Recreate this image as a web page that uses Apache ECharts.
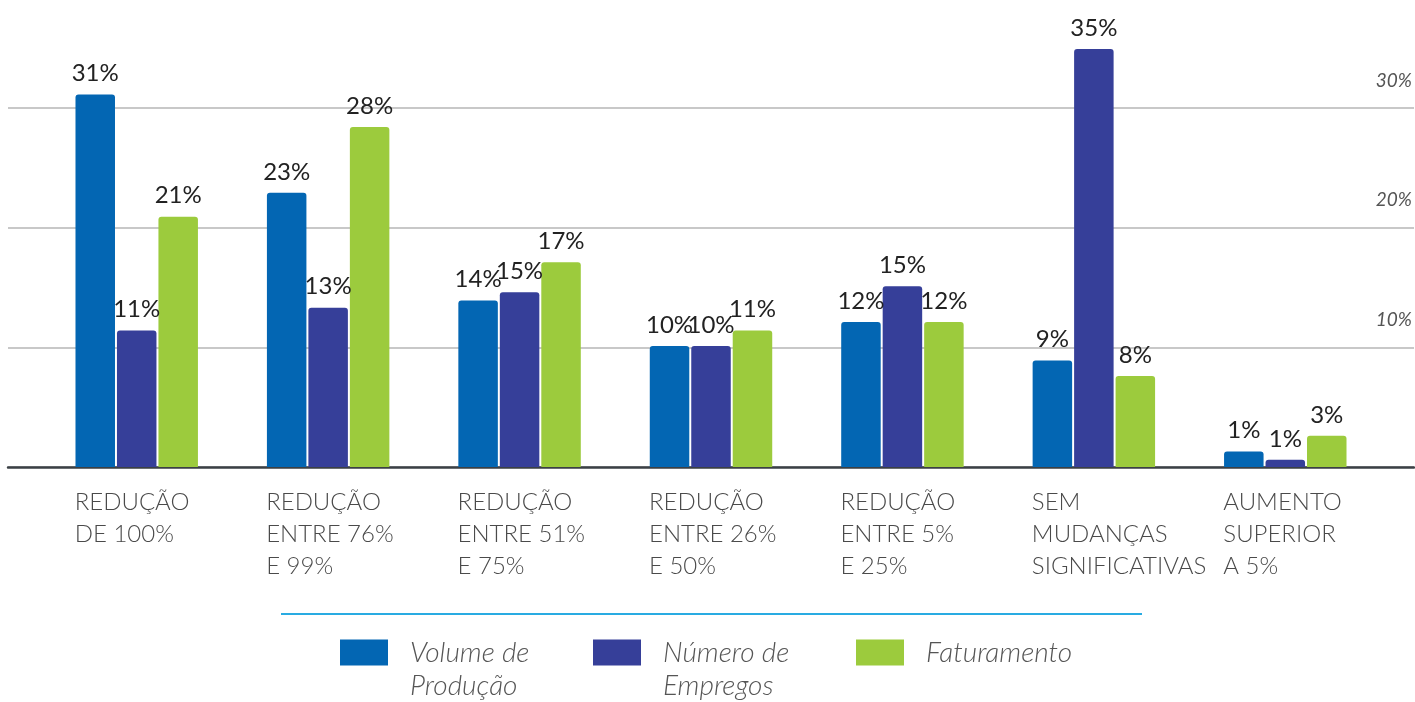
<!DOCTYPE html>
<html>
<head>
<meta charset="utf-8">
<style>
  html, body { margin: 0; padding: 0; background: #fff; }
  #main { width: 1415px; height: 702px; }
</style>
<script src="https://cdn.jsdelivr.net/npm/echarts@6/dist/echarts.min.js"></script>
</head>
<body>
<div id="main"></div>
<script>
// categorias (cada item = linhas do rótulo)
var categorias = [
  ['REDUÇÃO', 'DE 100%'],
  ['REDUÇÃO', 'ENTRE 76%', 'E 99%'],
  ['REDUÇÃO', 'ENTRE 51%', 'E 75%'],
  ['REDUÇÃO', 'ENTRE 26%', 'E 50%'],
  ['REDUÇÃO', 'ENTRE 5%', 'E 25%'],
  ['SEM', 'MUDANÇAS', 'SIGNIFICATIVAS'],
  ['AUMENTO', 'SUPERIOR', 'A 5%']
];
var volumeProducao = [31.1, 22.9, 13.9, 10.1, 12.1, 8.9, 1.3];
var numeroEmpregos = [11.4, 13.3, 14.6, 10.1, 15.1, 34.9, 0.6];
var faturamento = [20.9, 28.4, 17.1, 11.4, 12.1, 7.6, 2.6];
var nomesSeries = ['Volume de\nProdução', 'Número de\nEmpregos', 'Faturamento'];
var cores = ['#0366b3', '#363f99', '#9ccb3d'];

var fonte = "Lato, 'Open Sans', sans-serif";

(function () {
  var myChart = echarts.init(document.getElementById('main'));

  function serie(i, data) {
    return {
      name: nomesSeries[i],
      type: 'bar',
      xAxisIndex: 1,
      yAxisIndex: 1,
      barWidth: 39.5,
      barGap: '5%',
      data: data,
      itemStyle: { color: cores[i], borderRadius: [3, 3, 0, 0] },
      label: {
        show: true,
        position: 'top',
        distance: 9,
        color: '#222',
        fontFamily: fonte,
        fontSize: 24,
        formatter: function (p) { return Math.round(p.value) + '%'; }
      }
    };
  }

  // legenda: a 1a linha do texto fica alinhada com o quadrado
  function legenda(i, left, top) {
    return {
      data: [nomesSeries[i]],
      left: left,
      top: top,
      padding: 0,
      itemWidth: 48,
      itemHeight: 26,
      icon: 'rect',
      selectedMode: false,
      formatter: function (name) {
        return name.indexOf('\n') >= 0 ? ' \n' + name : name;
      },
      textStyle: {
        color: '#555',
        fontFamily: fonte,
        fontStyle: 'italic',
        fontWeight: 300,
        fontSize: 28,
        lineHeight: 33,
        padding: [0, 0, 0, 17]
      }
    };
  }

  var option = {
    animation: false,
    backgroundColor: '#fff',
    color: cores,
    grid: [
      // grade de fundo (linhas e eixo ocupam a largura toda)
      { left: 8, right: 0, top: 108, bottom: 235 },
      // grade das barras
      { left: 41, right: 34, top: 0, bottom: 235 }
    ],
    legend: [
      legenda(0, 340, 603),
      legenda(1, 593, 603),
      legenda(2, 856, 636)
    ],
    xAxis: [
      {
        gridIndex: 0,
        type: 'category',
        data: [''],
        axisLine: { show: true, lineStyle: { color: '#3b4045', width: 2.5 } },
        axisTick: { show: false },
        axisLabel: { show: false }
      },
      {
        gridIndex: 1,
        type: 'category',
        data: categorias.map(function (c) { return c.join('\n'); }),
        axisLine: { show: false },
        axisTick: { show: false },
        axisLabel: {
          interval: 0,
          margin: 19,
          width: 124,
          align: 'center',
          formatter: function (v) {
            return v.split('\n').map(function (l) { return '{a|' + l + '}'; }).join('\n');
          },
          rich: {
            a: {
              align: 'left',
              color: '#4a4a4a',
              fontFamily: fonte,
              fontWeight: 300,
              fontSize: 24,
              lineHeight: 32
            }
          }
        }
      }
    ],
    yAxis: [
      {
        gridIndex: 0,
        type: 'value',
        position: 'right',
        min: 0,
        max: 30,
        interval: 10,
        axisLine: { show: false },
        axisTick: { show: false },
        splitLine: { lineStyle: { color: '#c8c8c8', width: 2 } },
        axisLabel: {
          inside: true,
          margin: 2,
          verticalAlign: 'bottom',
          padding: [0, 0, 18, 0],
          color: '#555',
          fontFamily: fonte,
          fontStyle: 'italic',
          fontSize: 19,
          formatter: function (v) { return v === 0 ? '' : v + '%'; }
        }
      },
      {
        gridIndex: 1,
        type: 'value',
        min: 0,
        max: 39,
        show: false,
        splitLine: { show: false }
      }
    ],
    graphic: [
      {
        type: 'line',
        shape: { x1: 281, y1: 614, x2: 1142, y2: 614 },
        style: { stroke: '#29abe2', lineWidth: 2 }
      }
    ],
    series: [
      serie(0, volumeProducao),
      serie(1, numeroEmpregos),
      serie(2, faturamento)
    ]
  };

  if (option && typeof option === 'object') {
    myChart.setOption(option);
  }
  window.addEventListener('resize', function () {
    myChart.resize();
  });
})();
</script>
</body>
</html>
